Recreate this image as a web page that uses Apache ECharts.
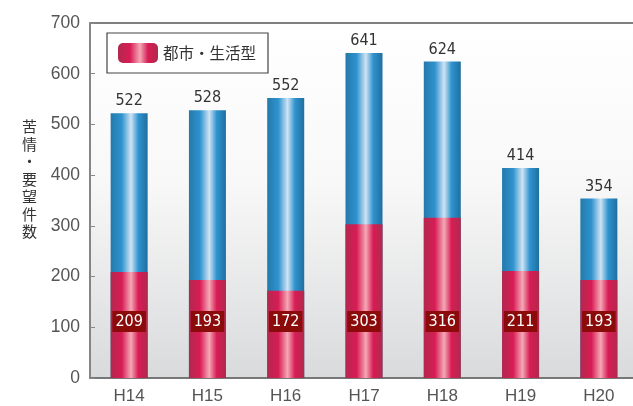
<!DOCTYPE html>
<html>
<head>
    <meta charset="utf-8">
    <script src="https://cdn.jsdelivr.net/npm/echarts@6/dist/echarts.min.js"></script>
</head>
<body style="margin:0">
<div id="main" style="width: 633px; height:406px"></div>
<script type="text/javascript">
    var years = ['H14', 'H15', 'H16', 'H17', 'H18', 'H19', 'H20'];
    var totals = [522, 528, 552, 641, 624, 414, 354];
    var urban = [209, 193, 172, 303, 316, 211, 193];
    var yTicks = [0, 100, 200, 300, 400, 500, 600, 700];

    var narrow = '"DejaVu Sans Condensed", "Liberation Sans", sans-serif';

    function barGrad(edgeL, main, light, edgeR) {
        return new echarts.graphic.LinearGradient(0, 0, 1, 0, [
            {offset: 0, color: edgeL},
            {offset: 0.3, color: main},
            {offset: 0.55, color: light},
            {offset: 0.75, color: main},
            {offset: 1, color: edgeR}
        ]);
    }
    var blue = barGrad('#2479aa', '#2f93cf', '#cfe3f3', '#1f6f9f');
    var red = barGrad('#b3284e', '#d81c55', '#f4a8b6', '#b02a4c');

    var myChart = echarts.init(document.getElementById('main'));
    var option = {
        backgroundColor: '#fff',
        animation: false,
        grid: {
            left: 90, width: 548, top: 23, bottom: 28,
            outerBoundsMode: 'none', containLabel: false,
            show: true, borderColor: '#555', borderWidth: 1.5,
            backgroundColor: new echarts.graphic.LinearGradient(0, 0, 0, 1, [
                {offset: 0, color: '#ffffff'},
                {offset: 0.45, color: '#f8f8f8'},
                {offset: 1, color: '#d9dadc'}
            ])
        },
        legend: {
            left: 107, top: 33,
            padding: [10, 12, 10, 11],
            borderColor: '#444', borderWidth: 1.2,
            backgroundColor: '#fff',
            itemWidth: 40, itemHeight: 20, itemGap: 6,
            textStyle: {fontSize: 15.5, color: '#333', fontFamily: 'Noto Sans CJK JP'},
            data: [{name: '都市・生活型', itemStyle: {color: red}}]
        },
        xAxis: {
            type: 'category', data: years,
            axisTick: {show: false},
            axisLine: {lineStyle: {color: '#777', width: 1.5}},
            axisLabel: {fontSize: 17, color: '#555', margin: 10, fontFamily: 'Liberation Sans'}
        },
        yAxis: {
            type: 'value', min: yTicks[0], max: yTicks[yTicks.length - 1], interval: 100,
            splitLine: {show: false},
            axisLine: {show: true, lineStyle: {color: '#888', width: 1.5}},
            axisTick: {show: true, inside: true, length: 5, lineStyle: {color: '#888'}},
            axisLabel: {fontSize: 17.5, color: '#555', margin: 10, fontFamily: 'Liberation Sans'}
        },
        graphic: [{
            type: 'text', left: 22, top: 118,
            style: {
                text: '苦\n情\n・\n要\n望\n件\n数',
                fontSize: 15, lineHeight: 17.5, fill: '#333',
                fontFamily: 'Noto Sans CJK JP'
            }
        }],
        series: [{
            name: '合計', type: 'bar', data: totals,
            barWidth: 37, barGap: '-100%',
            itemStyle: {color: blue},
            label: {
                show: true, position: 'top', distance: 4,
                fontSize: 16, color: '#333', fontFamily: narrow
            }
        }, {
            name: '都市・生活型', type: 'bar', data: urban,
            barWidth: 37,
            itemStyle: {color: red},
            label: {
                show: true, position: 'insideBottom', distance: 46,
                fontSize: 16, color: '#fff', fontFamily: narrow,
                backgroundColor: '#8b0a0a', padding: [3, 3, 2, 3]
            }
        }]
    };
    myChart.setOption(option);
</script>
</body>
</html>
